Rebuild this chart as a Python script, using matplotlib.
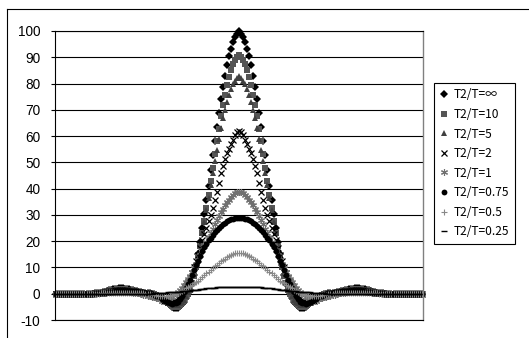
import matplotlib
matplotlib.use("Agg")
import matplotlib.pyplot as plt
from matplotlib.lines import Line2D

# Right half of each curve, index 0 = centre of the peak (the curves are symmetric)
inf_half = [100, 99, 97.7, 96, 93.3, 90.3, 87, 83, 78.7, 74, 68.7, 63.3, 58, 52.7, 47, 41, 35.7,
            30.3, 25, 19.7, 15, 11, 7, 3.8, 1.5, -0.2, -1.7, -3, -4, -4.8, -5.5, -5.5, -5.3, -5,
            -4.3, -3.7, -3, -2.3, -1.7, -1.2, -0.8, -0.5, -0.2, -0.1, 0.1, 0.2, 0.3, 0.4, 0.5, 0.7,
            0.9, 1.1, 1.3, 1.5, 1.7, 1.8, 1.9, 2, 2, 2, 1.9, 1.8, 1.7, 1.5, 1.3, 1, 0.8, 0.6, 0.4,
            0.3, 0.2, 0.1, 0, 0, 0, 0, 0, 0, 0, 0, 0, 0, 0, 0, 0, 0, 0, 0, 0, 0, 0]
t10_half = [91, 90.1, 89, 87.5, 85.2, 82.5, 79.5, 75.8, 72, 67.5, 62.8, 58, 53, 48, 42.8, 37.5,
            32.5, 27.5, 23, 18.3, 14, 10.2, 6.7, 3.9, 1.6, 0, -1.4, -2.7, -3.6, -4.3, -4.9, -5,
            -4.9, -4.6, -4, -3.4, -2.8, -2.2, -1.6, -1.1, -0.7, -0.4, -0.2, -0.1, 0.1, 0.2, 0.3,
            0.4, 0.5, 0.6, 0.8, 1, 1.2, 1.4, 1.5, 1.6, 1.7, 1.8, 1.8, 1.8, 1.7, 1.6, 1.5, 1.3, 1.1,
            0.9, 0.7, 0.5, 0.4, 0.3, 0.2, 0.1, 0, 0, 0, 0, 0, 0, 0, 0, 0, 0, 0, 0, 0, 0, 0, 0, 0, 0,
            0]
t5_half = [83, 82.2, 81.1, 79.8, 77.8, 75.5, 73, 70, 66.7, 63, 59, 54.8, 50.5, 45.8, 41.2, 36.5,
           31.8, 27.3, 23, 18.7, 14.7, 11, 7.7, 4.8, 2.3, 0.6, -0.9, -2.2, -3, -3.7, -4.2, -4.3,
           -4.3, -4.1, -3.6, -3.1, -2.6, -2.1, -1.6, -1.1, -0.7, -0.4, -0.2, -0.1, 0.1, 0.2, 0.3,
           0.3, 0.4, 0.5, 0.7, 0.9, 1, 1.2, 1.3, 1.4, 1.5, 1.6, 1.6, 1.6, 1.5, 1.4, 1.3, 1.2, 1, 0.8,
           0.6, 0.5, 0.4, 0.3, 0.2, 0.1, 0, 0, 0, 0, 0, 0, 0, 0, 0, 0, 0, 0, 0, 0, 0, 0, 0, 0, 0]
t2_half = [62, 61.6, 60.3, 58.5, 56.8, 55.1, 53.5, 51.2, 48.7, 46, 42.3, 38.8, 35.5, 32.5, 30, 27.5,
           25.2, 22.8, 20.5, 17.5, 14.8, 12.5, 10.2, 8, 6, 4.3, 2.8, 1.5, 0.3, -0.7, -1.6, -2.3,
           -2.8, -3.1, -3.2, -3.1, -2.9, -2.6, -2.2, -1.8, -1.4, -1, -0.7, -0.4, -0.1, 0.1, 0.2,
           0.3, 0.4, 0.5, 0.6, 0.8, 0.9, 1.1, 1.2, 1.3, 1.4, 1.5, 1.5, 1.5, 1.4, 1.3, 1.2, 1.1, 0.9,
           0.7, 0.5, 0.4, 0.3, 0.2, 0.1, 0.1, 0, 0, 0, 0, 0, 0, 0, 0, 0, 0, 0, 0, 0, 0, 0, 0, 0, 0,
           0]
t1_half = [38.8, 38.7, 38.3, 37.6, 36.7, 35.8, 34.8, 33.6, 32.3, 31, 29.5, 28, 26.5, 24.8, 23.2,
           21.5, 19.8, 18.2, 16.5, 14.7, 12.9, 11.3, 9.8, 8.3, 6.9, 5.6, 4.4, 3.3, 2.3, 1.4, 0.6,
           -0.1, -0.6, -1.1, -1.4, -1.7, -1.9, -2, -2, -1.9, -1.8, -1.6, -1.4, -1.1, -0.9, -0.7,
           -0.5, -0.3, -0.1, 0.1, 0.2, 0.3, 0.4, 0.5, 0.6, 0.7, 0.7, 0.8, 0.8, 0.8, 0.8, 0.7, 0.7,
           0.6, 0.5, 0.5, 0.4, 0.3, 0.2, 0.2, 0.1, 0.1, 0, 0, 0, 0, 0, 0, 0, 0, 0, 0, 0, 0, 0, 0, 0,
           0, 0, 0, 0]
t075_half = [29, 29, 28.8, 28.6, 28.3, 27.9, 27.5, 27, 26.4, 25.8, 25.1, 24.4, 23.5, 22.5, 21.4,
             20.3, 19, 17.6, 16.2, 14.3, 12.5, 10.8, 9, 7.1, 5.3, 3.6, 2, 0.5, -0.8, -2, -3, -3.5,
             -3.7, -3.8, -3.5, -3.2, -2.8, -2.3, -1.9, -1.4, -1, -0.7, -0.4, -0.1, 0.1, 0.3, 0.4,
             0.5, 0.7, 0.8, 0.9, 1, 1, 1.1, 1.1, 1.1, 1.1, 1.1, 1.1, 1, 1, 0.9, 0.8, 0.7, 0.6, 0.5,
             0.4, 0.3, 0.2, 0.2, 0.1, 0.1, 0, 0, 0, 0, 0, 0, 0, 0, 0, 0, 0, 0, 0, 0, 0, 0, 0, 0, 0]
t05_half = [15.6, 15.6, 15.4, 15.1, 14.8, 14.4, 13.9, 13.4, 12.9, 12.3, 11.7, 11.1, 10.4, 9.7, 9.1,
            8.4, 7.7, 7.1, 6.4, 5.7, 5, 4.5, 4, 3.5, 3, 2.5, 2.1, 1.6, 1.1, 0.7, 0.3, 0, -0.3, -0.6,
            -0.7, -0.8, -0.9, -0.9, -0.9, -0.8, -0.7, -0.6, -0.5, -0.4, -0.2, -0.1, 0, 0.1, 0.1,
            0.2, 0.2, 0.3, 0.3, 0.3, 0.4, 0.4, 0.4, 0.4, 0.4, 0.4, 0.3, 0.3, 0.3, 0.2, 0.2, 0.2,
            0.1, 0.1, 0.1, 0, 0, 0, 0, 0, 0, 0, 0, 0, 0, 0, 0, 0, 0, 0, 0, 0, 0, 0, 0, 0, 0]
t025_half = [2.7, 2.7, 2.69, 2.68, 2.66, 2.64, 2.6, 2.57, 2.53, 2.5, 2.47, 2.42, 2.35, 2.28, 2.2,
             2.1, 2, 1.9, 1.8, 1.7, 1.6, 1.5, 1.4, 1.3, 1.2, 1.1, 1.02, 0.95, 0.88, 0.82, 0.75,
             0.68, 0.62, 0.55, 0.52, 0.48, 0.45, 0.42, 0.36, 0.3, 0.23, 0.17, 0.1, 0.07, 0.03, 0,
             0, 0, 0, 0, 0, 0, 0, 0, 0, 0, 0, 0, 0, 0, 0, 0, 0, 0, 0, 0, 0, 0, 0, 0, 0, 0, 0, 0, 0,
             0, 0, 0, 0, 0, 0, 0, 0, 0, 0, 0, 0, 0, 0, 0, 0]

labels = ['T2/T=∞', 'T2/T=10', 'T2/T=5', 'T2/T=2', 'T2/T=1', 'T2/T=0.75', 'T2/T=0.5', 'T2/T=0.25']
halves = [inf_half, t10_half, t5_half, t2_half, t1_half, t075_half, t05_half, t025_half]

# marker, size, colour, edge width
styles = [
    ('D', 4.4, '#000000', 0.0),
    ('s', 3.8, '#555555', 0.0),
    ('^', 4.6, '#404040', 0.0),
    ('x', 4.6, '#000000', 0.9),
    ((6, 2, 0), 5.0, '#707070', 0.8),
    ('o', 4.2, '#000000', 0.0),
    ('+', 4.6, '#888888', 0.8),
    ('_', 4.0, '#000000', 1.0),
]

fig = plt.figure(figsize=(5.29, 3.38), dpi=100)
ax = fig.add_axes([55 / 529, 18 / 338, 368 / 529, 289 / 338])

for half, label, (mk, ms, col, mew) in zip(halves, labels, styles):
    values = half[::-1] + half[1:]
    xs = list(range(len(values)))
    ax.plot(xs, values, linestyle='none', marker=mk, markersize=ms, color=col,
            markeredgecolor=col, markeredgewidth=mew,
            label=label, clip_on=False)

n = len(inf_half) * 2 - 1
ax.set_xlim(-0.5, n - 0.5)
ax.set_ylim(-10, 100)
ax.set_yticks(range(-10, 101, 10))
ax.set_yticklabels([str(v) for v in range(-10, 101, 10)], fontfamily='Liberation Sans', fontsize=9.8)
ax.set_xticks([])
ax.tick_params(axis='y', direction='out', length=3, width=0.8, pad=7.5, color='black')
ax.yaxis.grid(True, color='black', linewidth=0.8)
ax.set_axisbelow(True)
for side in ['left', 'top', 'bottom']:
    ax.spines[side].set_color('black')
    ax.spines[side].set_linewidth(0.8)
ax.spines['right'].set_color('#808080')
ax.spines['right'].set_linewidth(1.0)

leg = fig.legend(loc='upper left', bbox_to_anchor=(434 / 529, 1 - 83 / 338),
                 numpoints=1, handlelength=0.7, handletextpad=0.5, labelspacing=0.55,
                 borderpad=0.45, borderaxespad=0, fancybox=False, framealpha=1,
                 prop={'family': ['Noto Sans CJK JP', 'DejaVu Sans'], 'size': 8.6})
leg.get_frame().set_edgecolor('black')
leg.get_frame().set_linewidth(0.8)

# chart area border (only its left and top edges fall inside the picture)
fig.add_artist(Line2D([7 / 529, 7 / 529], [0, 1 - 9 / 338], color='black', linewidth=0.8))
fig.add_artist(Line2D([7 / 529, 1], [1 - 9 / 338, 1 - 9 / 338], color='black', linewidth=0.8))

fig.savefig('out.png', dpi=100)
